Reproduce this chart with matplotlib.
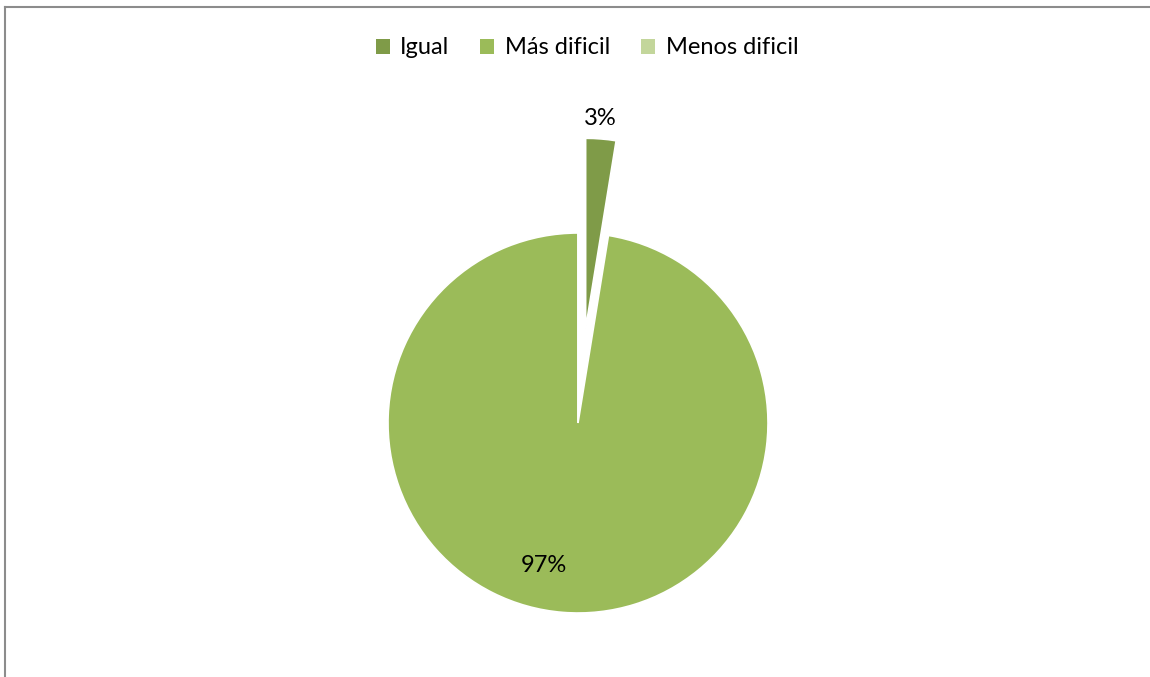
import matplotlib
matplotlib.use("Agg")
import matplotlib.pyplot as plt
from matplotlib.patches import Rectangle
import numpy as np

categories = ["Igual", "Más dificil", "Menos dificil"]
values = [1, 38, 0]
colors = ["#7F9B48", "#9BBB59", "#C3D69B"]

plt.rcParams['font.family'] = ['Lato', 'DejaVu Sans']

W, H = 1150, 677
fig = plt.figure(figsize=(W / 100, H / 100), dpi=100)
ax = fig.add_axes([0, 0, 1, 1])

R = 190
cx, cy = 578, H - 423
explode_frac = [0.5, 0.0, 0.0]

wedges, texts, autotexts = ax.pie(
    values, colors=colors, explode=[e * R for e in explode_frac], startangle=90, counterclock=False,
    radius=R, center=(cx, cy), autopct=lambda p: f"{p:.0f}%" if p > 0 else "",
    pctdistance=0.77, wedgeprops=dict(edgecolor="white", linewidth=1.2),
    textprops=dict(fontsize=17, color="#000000"))
ax.set_xlim(0, W)
ax.set_ylim(0, H)
ax.set_aspect('equal')
ax.axis('off')

# label adjustments (Excel best-fit placement)
total = sum(values)
theta_m = np.deg2rad(90 - 360 * values[0] / total / 2)
ex = explode_frac[0] * R
autotexts[0].set_position((cx + (ex + 1.11 * R) * np.cos(theta_m) - 2, cy + (ex + 1.11 * R) * np.sin(theta_m)))
autotexts[1].set_position((cx - 34, cy - 142))
for t in autotexts:
    t.set_ha('center'); t.set_va('center')

# frame border
fig.add_artist(plt.Line2D([4.5 / W, 4.5 / W], [0, 1 - 6.5 / H], transform=fig.transFigure, color="#8c8c8c", lw=1.5))
fig.add_artist(plt.Line2D([4.5 / W, 1], [1 - 6.5 / H, 1 - 6.5 / H], transform=fig.transFigure, color="#8c8c8c", lw=1.5))

handles = [Rectangle((0, 0), 1, 1, facecolor=c) for c in colors]
fig.legend(handles, categories, loc='center', bbox_to_anchor=(587 / W, 1 - 48 / H),
           ncol=3, frameon=False, fontsize=17, handlelength=0.6, handleheight=0.6,
           handletextpad=0.45, columnspacing=1.3)

fig.savefig("out.png", dpi=100)
